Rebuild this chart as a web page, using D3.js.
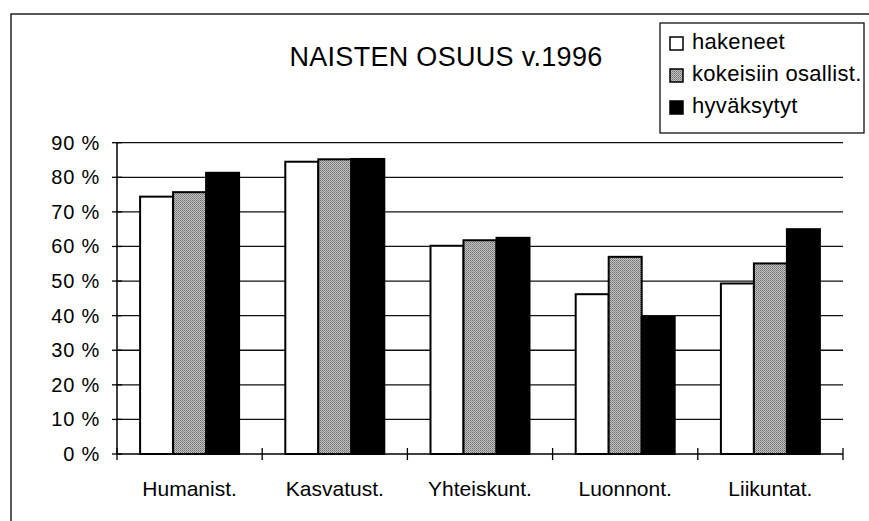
<!DOCTYPE html>
<html>
<head>
<meta charset="utf-8">
<title>NAISTEN OSUUS v.1996</title>
<script src="https://cdn.jsdelivr.net/npm/d3@7"></script>
<style>
	body { margin: 0; background: #fff; }
	text { font-family: Arial, "Liberation Sans", sans-serif; fill: #000; }
</style>
</head>
<body>
<script>

	// data
	var categories = ["Humanist.", "Kasvatust.", "Yhteiskunt.", "Luonnont.", "Liikuntat."];
	var seriesNames = ["hakeneet", "kokeisiin osallist.", "hyväksytyt"];
	var hakeneet   = [74.4, 84.5, 60.2, 46.2, 49.3];
	var kokeisiin  = [75.7, 85.2, 61.8, 57.0, 55.1];
	var hyvaksytyt = [81.3, 85.3, 62.5, 39.6, 65.0];
	var yTicks = [0, 10, 20, 30, 40, 50, 60, 70, 80, 90];
	var title = "NAISTEN OSUUS v.1996";

	var series = [hakeneet, kokeisiin, hyvaksytyt];

	var W = 869, H = 521;
	var plot = { left: 117, right: 843, top: 142.7, bottom: 454 };

	var svg = d3.select("body").append("svg")
		.attr("width", W)
		.attr("height", H);

	// dithered gray fill
	var defs = svg.append("defs");
	var pat = defs.append("pattern")
		.attr("id", "gray")
		.attr("width", 2).attr("height", 2)
		.attr("patternUnits", "userSpaceOnUse");
	pat.append("rect").attr("width", 2).attr("height", 2).attr("fill", "#c4c4c4");
	pat.append("rect").attr("width", 1).attr("height", 1).attr("fill", "#6e6e6e");
	pat.append("rect").attr("x", 1).attr("y", 1).attr("width", 1).attr("height", 1).attr("fill", "#8a8a8a");

	var fills = ["#fff", "url(#gray)", "#000"];

	// outer frame (top and left only visible)
	svg.append("path")
		.attr("d", "M11,521 V14 H869")
		.attr("fill", "none")
		.attr("stroke", "#222")
		.attr("stroke-width", 1.5);

	// scales
	var x = d3.scaleBand()
		.domain(categories)
		.range([plot.left, plot.right])
		.padding(0);

	var xs = d3.scaleBand()
		.domain(d3.range(series.length))
		.range([0, x.bandwidth()])
		.paddingInner(0)
		.paddingOuter(0.7);

	var y = d3.scaleLinear()
		.domain([0, 90])
		.range([plot.bottom, plot.top]);

	// gridlines
	svg.append("g")
		.selectAll("line")
		.data(yTicks.filter(function (d) { return d > 0; }))
		.enter().append("line")
		.attr("x1", plot.left).attr("x2", plot.right)
		.attr("y1", function (d) { return y(d); })
		.attr("y2", function (d) { return y(d); })
		.attr("stroke", "#111")
		.attr("stroke-width", 1.3);

	// bars
	series.forEach(function (vals, si) {
		svg.append("g")
			.selectAll("rect")
			.data(vals)
			.enter().append("rect")
			.attr("x", function (d, i) { return x(categories[i]) + xs(si); })
			.attr("y", function (d) { return y(d); })
			.attr("width", xs.bandwidth())
			.attr("height", function (d) { return y(0) - y(d); })
			.attr("fill", fills[si])
			.attr("stroke", "#000")
			.attr("stroke-width", 2);
	});

	// y axis
	var yAxis = svg.append("g");
	yAxis.append("line")
		.attr("x1", plot.left).attr("x2", plot.left)
		.attr("y1", plot.top).attr("y2", plot.bottom)
		.attr("stroke", "#000").attr("stroke-width", 1.5);
	yAxis.selectAll("line.tick")
		.data(yTicks)
		.enter().append("line")
		.attr("class", "tick")
		.attr("x1", plot.left - 5).attr("x2", plot.left + 5)
		.attr("y1", function (d) { return y(d); })
		.attr("y2", function (d) { return y(d); })
		.attr("stroke", "#000").attr("stroke-width", 1.3);
	yAxis.selectAll("text")
		.data(yTicks)
		.enter().append("text")
		.attr("x", 100)
		.attr("y", function (d) { return y(d) + 7; })
		.attr("text-anchor", "end")
		.attr("font-size", 20)
		.attr("letter-spacing", 0.8)
		.text(function (d) { return d + " %"; });

	// x axis
	var xAxis = svg.append("g");
	xAxis.append("line")
		.attr("x1", plot.left).attr("x2", plot.right)
		.attr("y1", plot.bottom).attr("y2", plot.bottom)
		.attr("stroke", "#000").attr("stroke-width", 1.5);
	var edges = categories.map(function (c) { return x(c); }).concat([plot.right]);
	xAxis.selectAll("line.tick")
		.data(edges)
		.enter().append("line")
		.attr("class", "tick")
		.attr("x1", function (d) { return d; })
		.attr("x2", function (d) { return d; })
		.attr("y1", plot.bottom - 6).attr("y2", plot.bottom + 6)
		.attr("stroke", "#000").attr("stroke-width", 1.3);
	xAxis.selectAll("text")
		.data(categories)
		.enter().append("text")
		.attr("x", function (d) { return x(d) + x.bandwidth() / 2; })
		.attr("y", 496)
		.attr("text-anchor", "middle")
		.attr("font-size", 21)
		.text(function (d) { return d; });

	// title
	svg.append("text")
		.attr("x", 446)
		.attr("y", 66)
		.attr("text-anchor", "middle")
		.attr("font-size", 27)
		.attr("letter-spacing", 0.3)
		.text(title);

	// legend
	var legend = svg.append("g");
	legend.append("rect")
		.attr("x", 660).attr("y", 23)
		.attr("width", 204).attr("height", 110)
		.attr("fill", "#fff")
		.attr("stroke", "#111")
		.attr("stroke-width", 1.3);
	var items = legend.selectAll("g.item")
		.data(seriesNames)
		.enter().append("g")
		.attr("class", "item")
		.attr("transform", function (d, i) { return "translate(670," + (37 + i * 32) + ")"; });
	items.append("rect")
		.attr("width", 13).attr("height", 13)
		.attr("fill", function (d, i) { return fills[i]; })
		.attr("stroke", "#000")
		.attr("stroke-width", 1.5);
	items.append("text")
		.attr("x", 22)
		.attr("y", 12)
		.attr("font-size", 22)
		.attr("letter-spacing", 0.3)
		.text(function (d) { return d; });

</script>
</body>
</html>
